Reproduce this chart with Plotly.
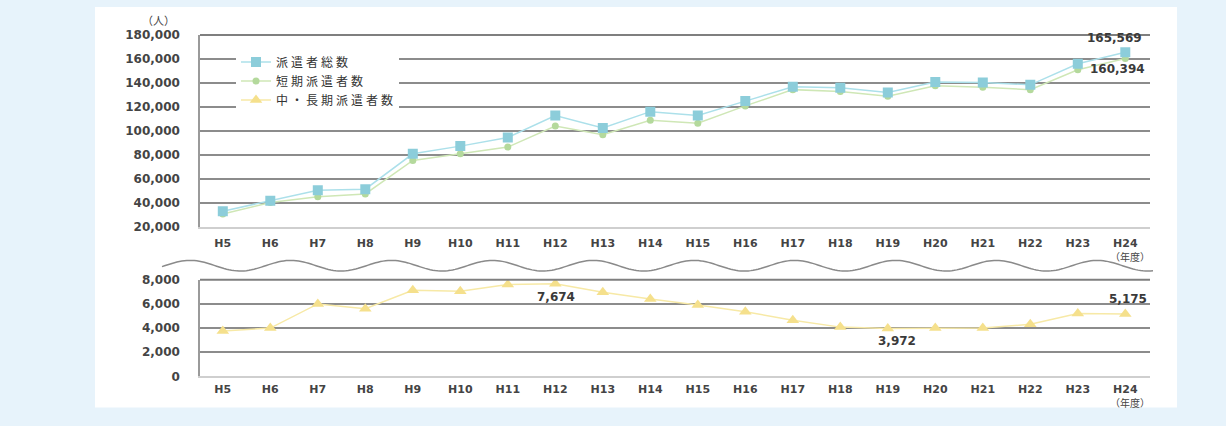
import numpy as np
import plotly.graph_objects as go

W, H = 1226, 426

# Fiscal years (Heisei era)
years = ["H5", "H6", "H7", "H8", "H9", "H10", "H11", "H12", "H13", "H14",
         "H15", "H16", "H17", "H18", "H19", "H20", "H21", "H22", "H23", "H24"]

# Total dispatched personnel
total = [32800, 41600, 50400, 51200, 80800, 87200, 94400, 112800, 102400, 116000,
         112800, 124800, 136800, 136000, 132000, 140800, 140400, 138400, 156000, 165569]

# Short-term dispatched personnel
short_term = [30400, 40000, 44800, 47200, 75200, 80800, 86400, 104000, 96800, 108800,
              106400, 120800, 134400, 132800, 128800, 137600, 136400, 134400, 151000, 160394]

# Mid/long-term dispatched personnel
mid_long = [3760, 4000, 6000, 5600, 7120, 7040, 7600, 7674, 6960, 6400,
            5920, 5360, 4640, 4080, 3972, 4000, 4000, 4320, 5200, 5175]

top_ticks = list(range(20000, 180001, 20000))
bottom_ticks = list(range(0, 8001, 2000))

FONT = "DejaVu Sans"
TXT = "#444444"
GRID = "#8c8c8c"


def px(x):
    return x / W


def py(y):
    return 1 - y / H


fig = go.Figure()

fig.add_trace(go.Scatter(
    x=years, y=short_term, name="短\u2005期\u2005派\u2005遣\u2005者\u2005数",
    mode="lines+markers", legendrank=2,
    line=dict(color="#cfe7b6", width=1.5),
    marker=dict(symbol="circle", size=7, color="#b4d99c"),
    xaxis="x", yaxis="y",
))
fig.add_trace(go.Scatter(
    x=years, y=total, name="派\u2005遣\u2005者\u2005総\u2005数",
    mode="lines+markers", legendrank=1,
    line=dict(color="#ace0ea", width=1.5),
    marker=dict(symbol="square", size=10, color="#8ccdda"),
    xaxis="x", yaxis="y",
))
fig.add_trace(go.Scatter(
    x=years, y=mid_long, name="中\u2005・\u2005長\u2005期\u2005派\u2005遣\u2005者\u2005数",
    mode="lines+markers", legendrank=3,
    line=dict(color="#f7e9a6", width=1.5),
    marker=dict(symbol="triangle-up", size=11, color="#f5e08c"),
    xaxis="x2", yaxis="y2",
))

xdom = [px(200), px(1150)]
xr = [-0.48, 19.52]
tickfont = dict(family=FONT, size=12, color=TXT, weight="bold")
xtickfont = dict(family=FONT, size=11, color=TXT, weight="bold")

common_x = dict(
    type="category", range=xr, domain=xdom, showgrid=False, ticks="",
    tickfont=xtickfont, showline=True, linecolor="#cfcfcf", linewidth=2,
    zeroline=False, fixedrange=True,
)
common_y = dict(
    showgrid=True, gridcolor=GRID, gridwidth=1.5, ticks="", tickfont=tickfont,
    showline=True, linecolor="#9a9a9a", linewidth=1.5, zeroline=False,
    tickformat=",d", ticklabelstandoff=16, fixedrange=True,
)

fig.update_layout(
    width=W, height=H,
    margin=dict(l=0, r=0, t=0, b=0),
    paper_bgcolor="#e7f3fb",
    plot_bgcolor="white",
    xaxis=dict(common_x, anchor="y", ticklabelstandoff=5),
    yaxis=dict(common_y, domain=[py(227), py(29)], range=[20000, 180000],
               tickvals=top_ticks, anchor="x"),
    xaxis2=dict(common_x, anchor="y2", ticklabelstandoff=1),
    yaxis2=dict(common_y, domain=[py(382), py(282)], range=[0, 8000],
                tickvals=bottom_ticks, anchor="x2"),
    legend=dict(
        x=px(236), y=py(42), xanchor="left", yanchor="top",
        bgcolor="white", borderwidth=0,
        font=dict(family="Noto Sans CJK JP", size=12, color="#333333"),
        tracegroupgap=0, itemclick=False, itemdoubleclick=False,
    ),
    showlegend=True,
)

# White panel behind the charts
shapes = [dict(type="rect", xref="paper", yref="paper", layer="below",
               x0=px(95), x1=px(1177), y0=py(414), y1=py(0),
               fillcolor="white", line=dict(width=0))]

# Wavy break line between the two panels
wx = np.linspace(162, 1153, 400)
wy = 267.5 - 5.5 * np.cos(2 * np.pi * (wx - 190) / 100.8)
path = "M " + " L ".join(f"{px(a):.5f},{py(b):.5f}" for a, b in zip(wx, wy))
shapes.append(dict(type="path", xref="paper", yref="paper", path=path,
                   line=dict(color="#8a8a8a", width=1.5)))

# Top border lines of each panel
for ytop in (29, 282):
    shapes.append(dict(type="line", xref="paper", yref="paper",
                       x0=px(200), x1=px(1150), y0=py(ytop), y1=py(ytop),
                       line=dict(color="#7f7f7f", width=2)))
fig.update_layout(shapes=shapes)

lab = dict(family=FONT, size=12, color="#3a3a3a", weight="bold")
cjk = dict(family="Noto Sans CJK JP", size=10, color=TXT)
ann = [
    dict(x=years[-1], y=total[-1], xref="x", yref="y", text=f"{total[-1]:,}",
         showarrow=False, yshift=14, xshift=-11, font=lab),
    dict(x=years[-1], y=short_term[-1], xref="x", yref="y", text=f"{short_term[-1]:,}",
         showarrow=False, yshift=-10, xshift=-8, font=lab),
    dict(x=years[7], y=mid_long[7], xref="x2", yref="y2", text=f"{mid_long[7]:,}",
         showarrow=False, yshift=-13, xshift=1, font=lab),
    dict(x=years[14], y=mid_long[14], xref="x2", yref="y2", text=f"{mid_long[14]:,}",
         showarrow=False, yshift=-13, xshift=9, font=lab),
    dict(x=years[-1], y=mid_long[-1], xref="x2", yref="y2", text=f"{mid_long[-1]:,}",
         showarrow=False, yshift=15, xshift=3, font=lab),
    dict(x=px(158), y=py(13), xref="paper", yref="paper", text="（人）",
         xanchor="center", yanchor="middle", showarrow=False,
         font=dict(family="Noto Sans CJK JP", size=11, color=TXT)),
    dict(x=px(1130), y=py(258), xref="paper", yref="paper", text="（年度）",
         xanchor="center", yanchor="middle", showarrow=False, font=cjk),
    dict(x=px(1130), y=py(409), xref="paper", yref="paper", text="（年度）",
         xanchor="center", yanchor="middle", showarrow=False, font=cjk),
]
fig.update_layout(annotations=ann)

fig.write_html("out.html")
